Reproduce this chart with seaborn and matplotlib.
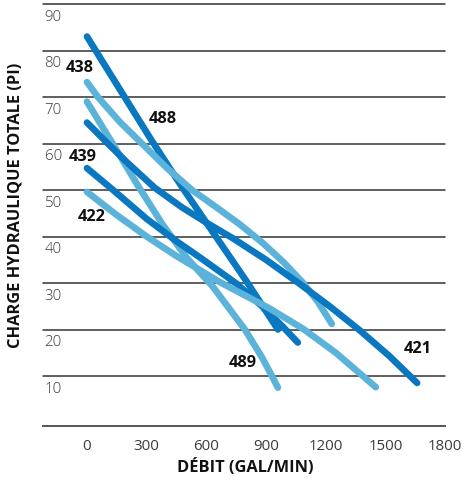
import pandas as pd
import numpy as np
import seaborn as sns
import matplotlib.pyplot as plt

# pump curves: flow (gal/min) vs total head (ft)
pumps = ['488', '438', '489', '421', '439', '422']
colors = {'488': '#0a78c0', '421': '#0a78c0', '439': '#0a78c0',
          '438': '#5bb3d9', '489': '#5bb3d9', '422': '#5bb3d9'}

flow_488 = [0, 160, 320, 480, 640, 800, 960]
head_488 = [83, 72, 61, 50.5, 40.5, 30.5, 20]

flow_438 = [0, 55, 166, 276, 400, 528, 650, 769, 884, 990, 1085, 1160, 1231]
head_438 = [73.2, 70, 64.6, 60, 54.8, 50, 46.3, 42.6, 38.6, 34.4, 30.1, 26, 21.2]

flow_489 = [0, 126, 251, 380, 500, 633, 794, 880, 930, 960]
head_489 = [69, 60.2, 51.3, 42.6, 35.5, 29.2, 20, 14, 10, 7.5]

flow_421 = [0, 100, 200, 340, 480, 600, 734, 900, 1070, 1220, 1372, 1520, 1660]
head_421 = [64.5, 60.2, 56, 50.5, 46.2, 43, 39.6, 35, 29.8, 25, 19.8, 14.3, 8.5]

flow_439 = [0, 126, 300, 450, 568, 754, 880, 985, 1060]
head_439 = [54.7, 50.2, 43.8, 39, 35.5, 29.8, 25, 20.6, 17.2]

flow_422 = [0, 150, 300, 450, 668, 915, 1085, 1251, 1452]
head_422 = [49.6, 44.6, 40, 35.8, 30.2, 24.6, 20.2, 15, 7.6]

label_x = [382, -35, 784, 1663, -20, 25]
label_y = [65.3, 76.2, 12.9, 15.9, 57.1, 44.2]

x_ticks = [0, 300, 600, 900, 1200, 1500, 1800]
y_grid = [10, 20, 30, 40, 50, 60, 70, 80, 90]

flows = {'488': flow_488, '438': flow_438, '489': flow_489,
         '421': flow_421, '439': flow_439, '422': flow_422}
heads = {'488': head_488, '438': head_438, '489': head_489,
         '421': head_421, '439': head_439, '422': head_422}

rows = []
for p in pumps:
    for f, h in zip(flows[p], heads[p]):
        rows.append({'pump': p, 'flow': f, 'head': h})
df = pd.DataFrame(rows)

sns.set_style('white')
plt.rcParams['font.family'] = ['Open Sans', 'DejaVu Sans']

fig = plt.figure(figsize=(4.76, 4.80), dpi=100)
ax = fig.add_axes([43/476, 1 - 426/480, (445 - 43)/476, (426 - 4)/480])

for v in y_grid:
    ax.axhline(v, color='#333333', lw=1.1, zorder=1, clip_on=False)
    ax.text(-213, v - 1.2, str(v), ha='left', va='top', fontsize=10.8,
            color='#3a3a3a', fontweight='light')

sns.lineplot(data=df, x='flow', y='head', hue='pump', palette=colors,
             sort=False, estimator=None, lw=4.8, solid_capstyle='round',
             legend=False, ax=ax, zorder=3)

for p, lx, ly in zip(pumps, label_x, label_y):
    ax.text(lx, ly, p, ha='center', va='center', fontsize=11.8,
            fontweight='bold', color='#111111', zorder=4)

ax.set_xlim(-221, 1800)
ax.set_ylim(-0.75, 90)
ax.set_xticks(x_ticks)
ax.set_xticklabels([str(t) for t in x_ticks])
ax.set_yticks([])
ax.tick_params(axis='x', direction='in', length=11, width=1.1, color='#333333',
               pad=9, labelsize=10.8, labelcolor='#3a3a3a')
for s in ['top', 'left', 'right']:
    ax.spines[s].set_visible(False)
ax.spines['bottom'].set_color('#555555')
ax.spines['bottom'].set_linewidth(1.4)
ax.set_xlabel('')
ax.set_ylabel('')

fig.text(245/476, 1 - 467/480, 'DÉBIT (GAL/MIN)', ha='center', va='center',
         fontsize=11.8, fontweight='bold', color='#111111')
fig.text(16/476, 1 - 205/480, 'CHARGE HYDRAULIQUE TOTALE (PI)', ha='center',
         va='center', rotation=90, fontsize=11.8, fontweight='bold', color='#111111')

fig.savefig('out.png', dpi=100)
